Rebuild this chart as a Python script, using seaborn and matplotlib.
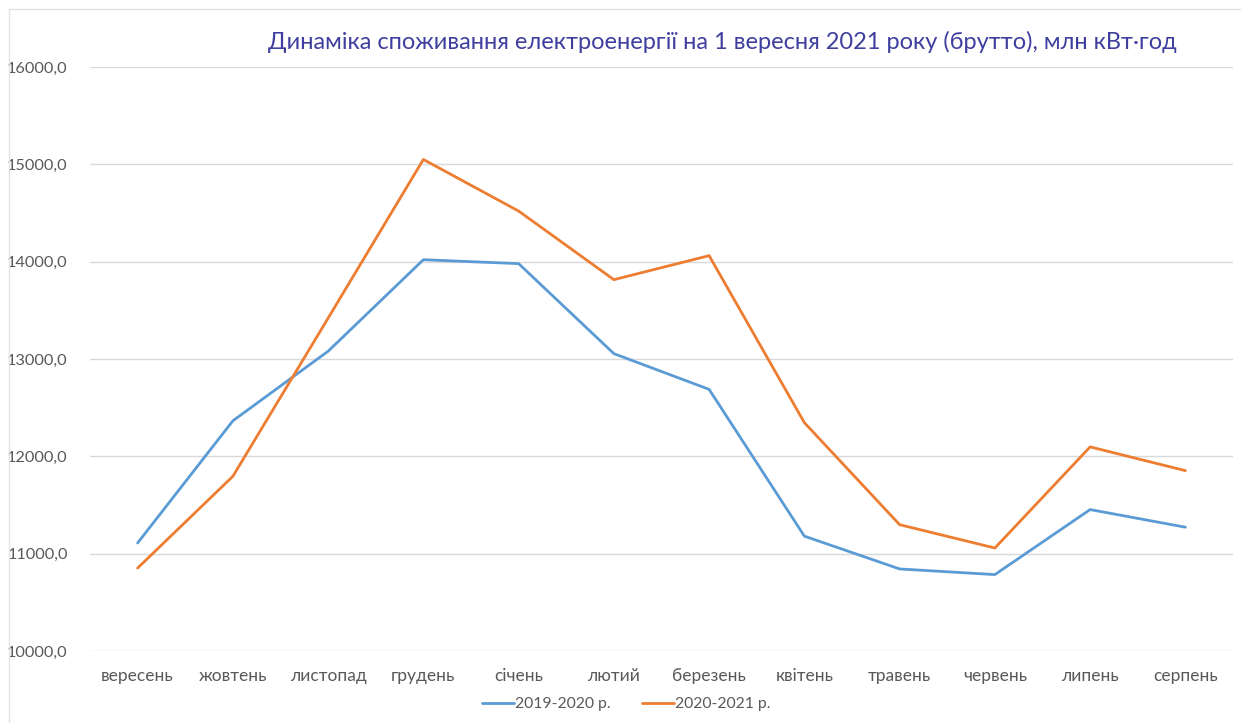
import numpy as np
import pandas as pd
import seaborn as sns
import matplotlib.pyplot as plt
from matplotlib.patches import Rectangle

months = ['вересень', 'жовтень', 'листопад', 'грудень', 'січень', 'лютий',
          'березень', 'квітень', 'травень', 'червень', 'липень', 'серпень']
series_names = ['2019-2020 р.', '2020-2021 р.']
values_2019_2020 = [11110, 12365, 13080, 14020, 13980, 13055,
                    12688, 11180, 10843, 10785, 11453, 11272]
values_2020_2021 = [10852, 11795, 13420, 15050, 14520, 13815,
                    14062, 12346, 11298, 11058, 12097, 11853]
y_ticks = [10000, 11000, 12000, 13000, 14000, 15000, 16000]
colors = ['#5B9BD5', '#ED7D31']

df = pd.DataFrame({
    'month': months * 2,
    'pos': list(range(len(months))) * 2,
    'value': values_2019_2020 + values_2020_2021,
    'series': [series_names[0]] * len(months) + [series_names[1]] * len(months),
})

sns.set_theme(style='white')
plt.rcParams['font.family'] = ['Lato', 'DejaVu Sans']

fig = plt.figure(figsize=(12.41, 7.23), dpi=100)
ax = fig.add_axes([90 / 1241, 1 - 651 / 723, (1233 - 90) / 1241, (651 - 67) / 723])

sns.lineplot(data=df, x='pos', y='value', hue='series', palette=colors,
             linewidth=2.0, ax=ax, legend=False)

ax.set_xlim(-0.5, len(months) - 0.5)
ax.set_ylim(y_ticks[0], y_ticks[-1])
ax.set_yticks(y_ticks)
ax.set_yticklabels([f'{v},0' for v in y_ticks])
ax.set_xticks(range(len(months)))
ax.set_xticklabels(months)
ax.tick_params(axis='y', length=0, pad=16, labelsize=11.8, labelcolor='#595959')
ax.tick_params(axis='x', length=0, pad=12, labelsize=12.5, labelcolor='#595959')
ax.grid(axis='y', color='#D9D9D9', linewidth=1)
ax.set_axisbelow(True)
for s in ax.spines.values():
    s.set_visible(False)
ax.set_xlabel('')
ax.set_ylabel('')

# legend
handles = [plt.Line2D([], [], color=c, linewidth=2.0) for c in colors]
fig.legend(handles, series_names, loc='center', bbox_to_anchor=(0.505, 1 - 704 / 723),
           ncol=2, frameon=False, fontsize=11.3, handlelength=2.0, handletextpad=0.1,
           columnspacing=2.0, labelcolor='#595959')

fig.text(0.582, 1 - 42 / 723,
         'Динаміка споживання електроенергії на 1 вересня 2021 року (брутто), млн кВт·год',
         ha='center', va='center', fontsize=17, color='#3F3F9F')

# chart border
fig.patches.append(Rectangle((9 / 1241, -0.01), 1.1, 1 - 9 / 723 + 0.01,
                             transform=fig.transFigure, fill=False,
                             edgecolor='#E3E3E3', linewidth=1))

fig.savefig('out.png', dpi=100)
